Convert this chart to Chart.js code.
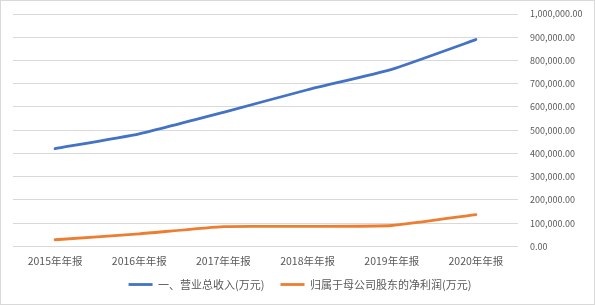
<!DOCTYPE html>
<html><head><meta charset="utf-8">
<script src="https://cdn.jsdelivr.net/npm/chart.js@4.4.0/dist/chart.umd.min.js"></script>
<style>
html,body{margin:0;padding:0;background:#fff;}
#wrap{width:595px;height:305px;box-sizing:border-box;border:1px solid #d9d9d9;}
canvas{display:block;}
</style></head>
<body><div id="wrap"><canvas id="c" width="593" height="303"></canvas></div>
<script>
const categories = ["2015年年报","2016年年报","2017年年报","2018年年报","2019年年报","2020年年报"];
const revenue = [420500, 484500, 577000, 674000, 762000, 890000];
const netProfit = [28600, 54000, 85500, 86000, 90000, 137000];
const seriesNames = ["一、营业总收入(万元)", "归属于母公司股东的净利润(万元)"];
const yMin = 0, yMax = 1000000, yStep = 100000;

const FONT = "'Noto Sans CJK SC', 'Noto Sans', sans-serif";
const TXT = '#595959';

// legend: fit with a small vertical gap, draw with wider spacing between items
const FIT_PAD = 4, DRAW_PAD = 16, LEGEND_CENTER = 299;
const legendSpacing = {
  id: 'legendSpacing',
  afterLayout(chart) {
    const lg = chart.legend;
    if (!lg) return;
    lg.options.labels.padding = DRAW_PAD;
    const dx = (DRAW_PAD - FIT_PAD) + ((lg.left + lg.right) / 2 - LEGEND_CENTER);
    lg.left -= 2 * dx;
    lg.top -= (DRAW_PAD - FIT_PAD);
  }
};

new Chart(document.getElementById('c'), {
  type: 'line',
  data: {
    labels: categories,
    datasets: [
      {label: seriesNames[0], data: revenue, borderColor: '#4472C4', backgroundColor: '#4472C4', borderWidth: 2.8, pointRadius: 0, tension: 0.15, borderCapStyle: 'round'},
      {label: seriesNames[1], data: netProfit, borderColor: '#ED7D31', backgroundColor: '#ED7D31', borderWidth: 2.8, pointRadius: 0, tension: 0.15, borderCapStyle: 'round'}
    ]
  },
  options: {
    responsive: false,
    animation: false,
    devicePixelRatio: 1,
    layout: {padding: {left: 12, top: 13, right: 0, bottom: 4}},
    plugins: {
      tooltip: {enabled: false},
      legend: {
        position: 'bottom',
        labels: {
          color: TXT,
          font: {family: FONT, size: 11},
          usePointStyle: true,
          pointStyle: 'line',
          pointStyleWidth: 24,
          boxHeight: 11,
          padding: FIT_PAD
        }
      }
    },
    scales: {
      x: {
        offset: true,
        grid: {display: false, drawTicks: false},
        border: {display: false},
        ticks: {color: TXT, font: {family: FONT, size: 10.5}, padding: 8, maxRotation: 0}
      },
      y: {
        position: 'right',
        min: yMin, max: yMax,
        grid: {color: '#d9d9d9', lineWidth: 1, drawTicks: false},
        border: {display: false},
        ticks: {
          stepSize: yStep,
          color: TXT,
          font: {family: FONT, size: 9},
          padding: 12,
          callback: v => v.toLocaleString('en-US', {minimumFractionDigits: 2, maximumFractionDigits: 2})
        },
        afterFit: s => { s.width = 76; s.paddingTop = 0; s.paddingBottom = 0; }
      }
    }
  },
  plugins: [legendSpacing]
});
</script></body></html>
